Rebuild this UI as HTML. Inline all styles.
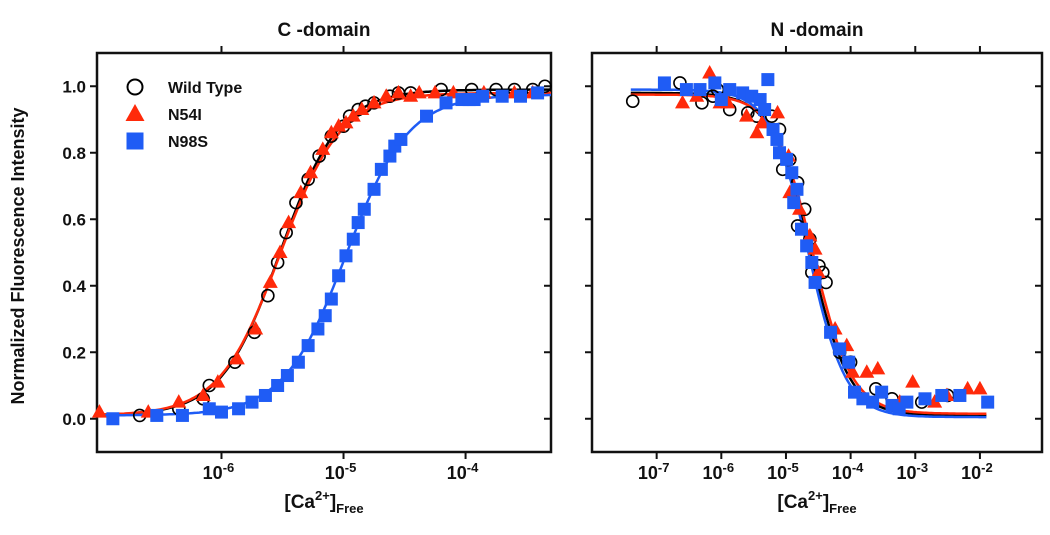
<!DOCTYPE html>
<html><head><meta charset="utf-8"><style>
body{margin:0;background:#fff;}
svg{display:block;font-family:"Liberation Sans",Arial,sans-serif;font-weight:bold;}
</style></head><body>
<svg id="chart" width="1050" height="535" viewBox="0 0 1050 535"></svg>
<script>
// ---- data (log10 [Ca2+], normalized intensity) ----
const cWTx=[-6.67,-6.35,-6.15,-6.1,-5.89,-5.73,-5.62,-5.54,-5.47,-5.39,-5.29,-5.2,-5.1,-5.0,-4.95,-4.88,-4.82,-4.75,-4.62,-4.55,-4.45,-4.2,-3.95,-3.75,-3.6,-3.45,-3.35];
const cWTy=[0.01,0.03,0.06,0.10,0.17,0.26,0.37,0.47,0.56,0.65,0.72,0.79,0.85,0.88,0.91,0.93,0.94,0.95,0.97,0.98,0.98,0.99,0.99,0.99,0.99,0.99,1.0];
const cN54x=[-7.0,-6.6,-6.35,-6.15,-6.03,-5.87,-5.72,-5.6,-5.52,-5.45,-5.35,-5.27,-5.17,-5.1,-5.04,-4.98,-4.92,-4.85,-4.75,-4.65,-4.55,-4.45,-4.38,-4.25,-4.1,-3.85,-3.6,-3.45];
const cN54y=[0.02,0.02,0.05,0.07,0.11,0.18,0.27,0.41,0.50,0.59,0.68,0.74,0.81,0.86,0.88,0.89,0.91,0.93,0.95,0.97,0.98,0.97,0.98,0.98,0.98,0.98,0.98,0.98];
const cN98x=[-6.89,-6.53,-6.32,-6.1,-6.0,-5.86,-5.75,-5.64,-5.54,-5.46,-5.37,-5.29,-5.21,-5.15,-5.10,-5.04,-4.98,-4.92,-4.88,-4.83,-4.75,-4.69,-4.62,-4.58,-4.53,-4.32,-4.16,-4.03,-3.97,-3.93,-3.86,-3.7,-3.55,-3.41];
const cN98y=[0,0.01,0.01,0.03,0.02,0.03,0.05,0.07,0.10,0.13,0.17,0.22,0.27,0.31,0.36,0.43,0.49,0.54,0.59,0.63,0.69,0.75,0.79,0.82,0.84,0.91,0.95,0.96,0.96,0.96,0.97,0.97,0.97,0.98];
const nWTx=[-7.37,-6.64,-6.3,-6.13,-6.06,-5.87,-5.59,-5.45,-5.22,-5.1,-5.05,-4.94,-4.82,-4.71,-4.82,-4.63,-4.6,-4.49,-4.43,-4.38,-4.17,-4.0,-3.61,-3.36,-2.9,-2.5];
const nWTy=[0.955,1.01,0.95,0.97,0.99,0.93,0.92,0.91,0.91,0.87,0.75,0.78,0.71,0.63,0.58,0.54,0.44,0.46,0.44,0.41,0.20,0.17,0.09,0.06,0.05,0.07];
const nN54x=[-6.6,-6.38,-6.18,-6.02,-5.9,-5.61,-5.45,-5.37,-5.13,-4.96,-4.94,-4.79,-4.63,-4.55,-4.5,-4.24,-4.06,-3.97,-3.75,-3.58,-3.24,-3.04,-2.7,-2.51,-2.19,-2.0];
const nN54y=[0.95,0.97,1.04,0.95,0.95,0.91,0.86,0.89,0.92,0.79,0.68,0.63,0.55,0.51,0.44,0.27,0.22,0.14,0.14,0.15,0.05,0.11,0.05,0.07,0.09,0.09];
const nN98x=[-6.88,-6.54,-6.33,-6.1,-6.0,-5.87,-5.67,-5.53,-5.4,-5.28,-5.33,-5.2,-5.14,-5.1,-4.99,-4.91,-4.83,-4.88,-4.76,-4.68,-4.6,-4.55,-4.31,-4.17,-4.03,-3.94,-3.81,-3.66,-3.52,-3.36,-3.25,-3.13,-2.85,-2.59,-2.31,-1.88];
const nN98y=[1.01,0.99,0.99,1.01,0.96,0.99,0.98,0.97,0.96,1.02,0.93,0.87,0.84,0.80,0.78,0.74,0.69,0.65,0.57,0.52,0.47,0.41,0.26,0.21,0.17,0.08,0.06,0.05,0.08,0.04,0.03,0.05,0.06,0.07,0.07,0.05];
// fit parameters: [logK, hill, bottom, top]
const fitCWT=[-5.52,1.8,0.01,0.99];
const fitCN54=[-5.52,1.75,0.01,0.98];
const fitCN98=[-4.98,1.7,0.01,0.975];
const fitNWT=[-4.62,1.45,0.01,0.98];
const fitNN54=[-4.58,1.45,0.015,0.975];
const fitNN98=[-4.65,1.5,0.005,0.99];
const cFitRange=[-7.02,-3.30];
const nFitRange=[-7.4,-1.9];
const yTicks=[0,0.2,0.4,0.6,0.8,1.0];
const yTickLabels=["0.0","0.2","0.4","0.6","0.8","1.0"];
const cXTicks=[-6,-5,-4];
const nXTicks=[-7,-6,-5,-4,-3,-2];

const NS="http://www.w3.org/2000/svg";
const svg=document.getElementById('chart');
function mk(tag,attrs,parent){const e=document.createElementNS(NS,tag);for(const k in attrs)e.setAttribute(k,attrs[k]);(parent||svg).appendChild(e);return e;}
const RED="#ff2a0a",BLUE="#1f5cf5";
function panel(name,L,R,xmin,xmax,xt,title,series,fits,rising,fr0){
  const T=53,B=452,ymin=-0.1,ymax=1.1;
  const X=v=>L+(v-xmin)/(xmax-xmin)*(R-L);
  const Y=v=>B-(v-ymin)/(ymax-ymin)*(B-T);
  const g=mk('g',{});
  
  
  const fr=mk('rect',{x:L,y:T,width:R-L,height:B-T,fill:'none',stroke:'#111','stroke-width':2.5},g);
  
  
  yTicks.forEach((v,i)=>{
    mk('line',{x1:L-7,x2:L,y1:Y(v),y2:Y(v),stroke:'#111','stroke-width':2},g);
    mk('line',{x1:R-7,x2:R,y1:Y(v),y2:Y(v),stroke:'#111','stroke-width':2},g);
    if(name==='c-domain'){const t=mk('text',{x:L-11,y:Y(v)+6,'text-anchor':'end','font-size':17,fill:'#111'},g);t.textContent=yTickLabels[i];
      
      }
  });
  xt.forEach(v=>{
    mk('line',{x1:X(v),x2:X(v),y1:B,y2:B+7,stroke:'#111','stroke-width':2},g);
    mk('line',{x1:X(v),x2:X(v),y1:T-7,y2:T,stroke:'#111','stroke-width':2},g);
    const t=mk('text',{x:X(v)-3,y:B+27,'text-anchor':'middle','font-size':18,fill:'#111'},g);
    t.innerHTML='10<tspan dy="-7" font-size="13">'+v+'</tspan>';
    
    
  });
  const tt=mk('text',{x:(L+R)/2,y:36,'text-anchor':'middle','font-size':19,fill:'#111'},g);
  tt.textContent=title;
  
  
  const xl=mk('text',{x:(L+R)/2,y:508,'text-anchor':'middle','font-size':19,fill:'#111'},g);
  xl.innerHTML='[Ca<tspan dy="-8" font-size="13">2+</tspan><tspan dy="8">]</tspan><tspan dy="5" font-size="13">Free</tspan>';
  
  
  const cols=['#000',RED,BLUE];
  fits.forEach((p,i)=>{
    let d='';
    for(let k=0;k<=200;k++){
      const x=fr0[0]+(fr0[1]-fr0[0])*k/200;
      const e=rising?Math.pow(10,p[1]*(p[0]-x)):Math.pow(10,p[1]*(x-p[0]));
      const y=p[2]+(p[3]-p[2])/(1+e);
      d+=(k?'L':'M')+X(x).toFixed(1)+','+Y(y).toFixed(1);
    }
    const path=mk('path',{d:d,fill:'none',stroke:cols[i],'stroke-width':2.5},g);
    
    
  });
  series.forEach((s,i)=>{
    s[0].forEach((xv,j)=>{
      const cx=X(xv),cy=Y(s[1][j]);let m;
      if(i===0)m=mk('circle',{cx:cx,cy:cy,r:6,fill:'none',stroke:'#000','stroke-width':1.6},g);
      else if(i===1)m=mk('polygon',{points:`${cx},${cy-8} ${cx-7.5},${cy+5.5} ${cx+7.5},${cy+5.5}`,fill:RED},g);
      else m=mk('rect',{x:cx-6.5,y:cy-6.5,width:13,height:13,fill:BLUE},g);
      
      
    });
  });
}
panel('c-domain',97,551,-7.02,-3.30,cXTicks,'C -domain',[[cWTx,cWTy],[cN54x,cN54y],[cN98x,cN98y]],[fitCWT,fitCN54,fitCN98],true,cFitRange);
panel('n-domain',592,1042,-8.0,-1.04,nXTicks,'N -domain',[[nWTx,nWTy],[nN54x,nN54y],[nN98x,nN98y]],[fitNWT,fitNN54,fitNN98],false,nFitRange);
const yl=mk('text',{x:0,y:0,transform:'translate(24,256) rotate(-90)','text-anchor':'middle','font-size':18,fill:'#111'});
yl.textContent='Normalized Fluorescence Intensity';


const leg=mk('g',{});


const labs=['Wild Type','N54I','N98S'];
labs.forEach((l,i)=>{
  const y=87+i*27,x=135;let m;
  if(i===0)m=mk('circle',{cx:x,cy:y,r:7.5,fill:'none',stroke:'#000','stroke-width':2},leg);
  else if(i===1)m=mk('polygon',{points:`${x},${y-10} ${x-9.5},${y+7} ${x+9.5},${y+7}`,fill:RED},leg);
  else m=mk('rect',{x:x-8.5,y:y-8.5,width:17,height:17,fill:BLUE},leg);
  
  
  const t=mk('text',{x:168,y:y+6,'font-size':16,fill:'#111'},leg);
  t.textContent=l;
  
  
});
</script>
</body></html>
